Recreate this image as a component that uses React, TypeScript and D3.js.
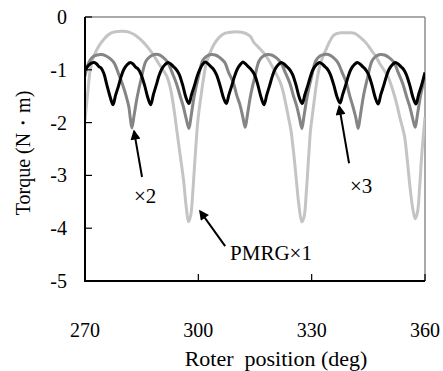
import React from "react";
import * as d3 from "d3";

// Cogging torque vs. rotor position for three rotor configurations
type Pt = [number, number];

// PMRG×1 (single) — deep dips every 30 deg
const pmrgX1: Pt[] = [
  [270.0, -1.95], [270.7, -1.45], [271.4, -1.0], [272.3, -0.75], [273.6, -0.56],
  [275.0, -0.42], [276.5, -0.32], [278.0, -0.28], [280.0, -0.27], [281.8, -0.29],
  [283.0, -0.33], [284.3, -0.4], [285.6, -0.49], [286.9, -0.6], [288.2, -0.73],
  [289.5, -0.88], [290.6, -1.0], [291.7, -1.13], [292.7, -1.38], [293.7, -1.82],
  [294.4, -2.2], [295.2, -2.62], [296.1, -3.1], [296.8, -3.6], [297.4, -3.88],
  [298.0, -3.75], [298.6, -3.25], [299.2, -2.6], [299.9, -1.95], [300.8, -1.45],
  [301.4, -1.15], [302.1, -0.88], [303.2, -0.66], [304.3, -0.5], [305.6, -0.38],
  [307.0, -0.31], [308.5, -0.29], [310.0, -0.28], [311.5, -0.29], [312.8, -0.32],
  [313.8, -0.37], [314.7, -0.48], [316.0, -0.58], [317.4, -0.69], [318.5, -0.8],
  [319.6, -0.94], [320.7, -1.09], [321.8, -1.26], [322.5, -1.43], [323.1, -1.63],
  [323.8, -1.88], [324.5, -2.14], [325.2, -2.55], [325.9, -3.05], [326.6, -3.55],
  [327.4, -3.88], [328.0, -3.78], [328.6, -3.3], [329.2, -2.65], [329.7, -2.14],
  [330.2, -1.85], [330.6, -1.63], [331.2, -1.3], [331.9, -1.0], [332.7, -0.8],
  [333.7, -0.63], [334.8, -0.46], [335.9, -0.34], [337.7, -0.3], [339.5, -0.3],
  [341.4, -0.31], [343.1, -0.4], [344.5, -0.5], [345.8, -0.63], [347.0, -0.75],
  [348.0, -0.88], [349.1, -1.0], [350.2, -1.13], [351.1, -1.3], [352.0, -1.51],
  [352.7, -1.7], [353.3, -1.89], [354.0, -2.08], [354.6, -2.27], [355.3, -2.7],
  [356.0, -3.2], [356.7, -3.6], [357.4, -3.82], [358.0, -3.7], [358.6, -3.2],
  [359.2, -2.55], [360.0, -1.9],
];

// ×2 — dips every 15 deg
const pmrgX2: Pt[] = [
  [270.0, -1.12], [270.9, -0.88], [272.0, -0.76], [273.2, -0.72], [274.3, -0.71],
  [275.4, -0.73], [276.5, -0.78], [277.7, -0.87], [278.8, -1.06], [279.9, -1.27],
  [280.9, -1.5], [281.6, -1.7], [282.0, -1.92], [282.4, -2.1], [283.0, -1.86],
  [283.8, -1.52], [284.9, -1.16], [286.1, -0.84], [287.2, -0.75], [288.3, -0.71],
  [289.4, -0.71], [290.6, -0.76], [291.9, -0.86], [293.0, -1.04], [294.2, -1.26],
  [295.2, -1.5], [296.0, -1.69], [296.8, -1.93], [297.5, -2.11], [298.1, -1.87],
  [298.9, -1.5], [300.0, -1.14], [301.2, -0.82], [302.3, -0.74], [303.4, -0.71],
  [304.5, -0.72], [305.7, -0.77], [307.0, -0.86], [308.0, -1.05], [309.2, -1.23],
  [310.2, -1.49], [311.0, -1.66], [311.8, -1.9], [312.4, -2.09], [313.0, -1.85],
  [313.8, -1.5], [314.9, -1.15], [316.1, -0.83], [317.2, -0.74], [318.3, -0.71],
  [319.4, -0.72], [320.6, -0.77], [321.9, -0.87], [323.0, -1.05], [324.2, -1.25],
  [325.2, -1.5], [326.0, -1.68], [326.8, -1.92], [327.4, -2.11], [328.0, -1.86],
  [328.8, -1.51], [329.9, -1.15], [331.1, -0.83], [332.2, -0.74], [333.3, -0.71],
  [334.4, -0.71], [335.6, -0.76], [336.9, -0.86], [338.0, -1.04], [339.2, -1.25],
  [340.1, -1.5], [340.9, -1.69], [341.7, -1.91], [342.3, -2.11], [342.9, -1.86],
  [343.7, -1.5], [344.8, -1.15], [346.0, -0.83], [347.1, -0.74], [348.2, -0.71],
  [349.3, -0.72], [350.5, -0.77], [351.8, -0.86], [352.9, -1.05], [354.1, -1.26],
  [355.1, -1.5], [355.9, -1.68], [356.7, -1.91], [357.4, -2.09], [358.0, -1.85],
  [358.8, -1.5], [360.0, -1.12],
];

// ×3 — dips every 10 deg
const pmrgX3: Pt[] = [
  [270.0, -1.01], [270.9, -0.92], [271.8, -0.87], [272.4, -0.86], [273.1, -0.89],
  [273.7, -0.94], [274.3, -0.97], [275.0, -1.07], [275.8, -1.29], [276.6, -1.5],
  [277.4, -1.66], [278.1, -1.48], [278.9, -1.3], [279.6, -1.12], [280.3, -0.99],
  [281.2, -0.9], [282.0, -0.86], [282.7, -0.89], [283.4, -0.95], [284.0, -0.98],
  [284.8, -1.08], [285.8, -1.3], [286.6, -1.52], [287.4, -1.66], [288.1, -1.47],
  [288.9, -1.28], [289.6, -1.11], [290.3, -0.99], [291.2, -0.9], [292.0, -0.86],
  [292.7, -0.89], [293.4, -0.94], [294.0, -0.98], [294.9, -1.08], [295.9, -1.3],
  [296.7, -1.52], [297.5, -1.64], [298.2, -1.47], [299.0, -1.29], [299.7, -1.12],
  [300.4, -0.99], [301.2, -0.89], [301.9, -0.85], [302.6, -0.89], [303.3, -0.94],
  [303.9, -0.98], [304.8, -1.09], [305.8, -1.31], [306.6, -1.52], [307.4, -1.64],
  [308.1, -1.47], [308.9, -1.29], [309.6, -1.12], [310.3, -0.99], [311.1, -0.9],
  [311.8, -0.85], [312.5, -0.89], [313.2, -0.94], [313.8, -0.98], [314.8, -1.08],
  [315.8, -1.3], [316.6, -1.52], [317.4, -1.66], [318.1, -1.48], [318.9, -1.29],
  [319.6, -1.12], [320.3, -0.99], [321.2, -0.9], [322.0, -0.86], [322.7, -0.89],
  [323.4, -0.94], [324.0, -0.98], [324.9, -1.08], [325.9, -1.3], [326.7, -1.52],
  [327.5, -1.64], [328.2, -1.47], [329.0, -1.29], [329.7, -1.12], [330.4, -0.99],
  [331.3, -0.9], [332.1, -0.86], [332.8, -0.89], [333.5, -0.94], [334.1, -0.98],
  [334.9, -1.08], [335.9, -1.3], [336.7, -1.51], [337.5, -1.63], [338.2, -1.47],
  [339.0, -1.29], [339.7, -1.12], [340.4, -0.99], [341.3, -0.9], [342.1, -0.86],
  [342.8, -0.89], [343.5, -0.94], [344.1, -0.98], [345.0, -1.08], [346.0, -1.3],
  [346.8, -1.52], [347.6, -1.65], [348.3, -1.47], [349.1, -1.29], [349.8, -1.12],
  [350.5, -0.99], [351.4, -0.9], [352.2, -0.86], [352.9, -0.89], [353.6, -0.94],
  [354.2, -0.98], [355.0, -1.08], [356.0, -1.3], [356.8, -1.52], [357.6, -1.65],
  [358.3, -1.47], [359.1, -1.29], [360.0, -1.05],
];

const xTicks = [270, 300, 330, 360];
const yTicks = [0, -1, -2, -3, -4, -5];
const xTitle = "Roter\u00a0\u00a0position (deg)";
const yTitle = "Torque (N\u30fbm)";

const W = 443;
const H = 371;
const plot = { left: 85, right: 425, top: 17, bottom: 281 };
const FONT = "'Times New Roman', 'Liberation Serif', serif";

export default function App() {
  const x = d3.scaleLinear().domain([270, 360]).range([plot.left, plot.right]);
  const y = d3.scaleLinear().domain([-5, 0]).range([plot.bottom, plot.top]);
  const line = d3
    .line<Pt>()
    .x((d) => x(d[0]))
    .y((d) => y(d[1]))
    .curve(d3.curveCatmullRom.alpha(0.5));

  const series = [
    { data: pmrgX1, color: "#c4c4c4" },
    { data: pmrgX2, color: "#858585" },
    { data: pmrgX3, color: "#000000" },
  ];

  // callouts: label, arrow tail and arrow head in data units
  const notes = [
    { text: "\u00d72", lx: 285.9, ly: -3.52, anchor: "middle", tail: [285.1, -3.03], head: [283.0, -2.17] },
    { text: "\u00d73", lx: 343.1, ly: -3.33, anchor: "middle", tail: [339.9, -2.77], head: [337.3, -1.7] },
    { text: "PMRG\u00d71", lx: 308.4, ly: -4.6, anchor: "start", tail: [307.1, -4.34], head: [300.5, -3.68] },
  ];

  return (
    <svg
      width={W}
      height={H}
      style={{ position: "absolute", left: 0, top: 0, background: "#fff" }}
      fontFamily={FONT}
    >
      <defs>
        <clipPath id="plotClip">
          <rect x={plot.left} y={plot.top} width={plot.right - plot.left} height={plot.bottom - plot.top} />
        </clipPath>
        <marker id="arrowHead" viewBox="0 0 10 10" refX="8" refY="5" markerWidth="5.5" markerHeight="5" orient="auto" markerUnits="strokeWidth">
          <path d="M0,0 L10,5 L0,10 z" fill="#000" />
        </marker>
      </defs>

      {/* top and right frame */}
      <line x1={plot.left} x2={plot.right} y1={plot.top} y2={plot.top} stroke="#8c8c8c" strokeWidth={1.5} />
      <line x1={plot.right} x2={plot.right} y1={plot.top} y2={plot.bottom} stroke="#8c8c8c" strokeWidth={1.5} />

      <g clipPath="url(#plotClip)">
        {series.map((s, i) => (
          <path key={i} d={line(s.data) ?? ""} fill="none" stroke={s.color} strokeWidth={3} strokeLinejoin="round" />
        ))}
      </g>

      {/* axes */}
      <line x1={plot.left} x2={plot.left} y1={plot.top} y2={plot.bottom + 1} stroke="#000" strokeWidth={2} />
      <line x1={plot.left - 1} x2={plot.right} y1={plot.bottom} y2={plot.bottom} stroke="#000" strokeWidth={2} />

      {yTicks.map((t) => (
        <g key={t}>
          <line x1={plot.left} x2={plot.left + 7} y1={y(t)} y2={y(t)} stroke="#000" strokeWidth={1.2} />
          <text x={67} y={y(t)} textAnchor="end" dominantBaseline="central" fontSize={20}>
            {t === 0 ? "0" : `-${Math.abs(t)}`}
          </text>
        </g>
      ))}
      {xTicks.map((t) => (
        <g key={t}>
          <line x1={x(t)} x2={x(t)} y1={plot.bottom} y2={plot.bottom - 7} stroke="#000" strokeWidth={1.2} />
          <text x={x(t)} y={337} textAnchor="middle" fontSize={20}>
            {t}
          </text>
        </g>
      ))}

      <text x={276} y={366} textAnchor="middle" fontSize={22}>
        {xTitle}
      </text>
      <text transform={`translate(30,153) rotate(-90)`} textAnchor="middle" fontSize={20}>
        {yTitle}
      </text>

      {notes.map((n, i) => (
        <g key={i}>
          <line
            x1={x(n.tail[0])}
            y1={y(n.tail[1])}
            x2={x(n.head[0])}
            y2={y(n.head[1])}
            stroke="#000"
            strokeWidth={2}
            markerEnd="url(#arrowHead)"
          />
          <text x={x(n.lx)} y={y(n.ly)} textAnchor={n.anchor as any} fontSize={21}>
            {n.text}
          </text>
        </g>
      ))}
    </svg>
  );
}
